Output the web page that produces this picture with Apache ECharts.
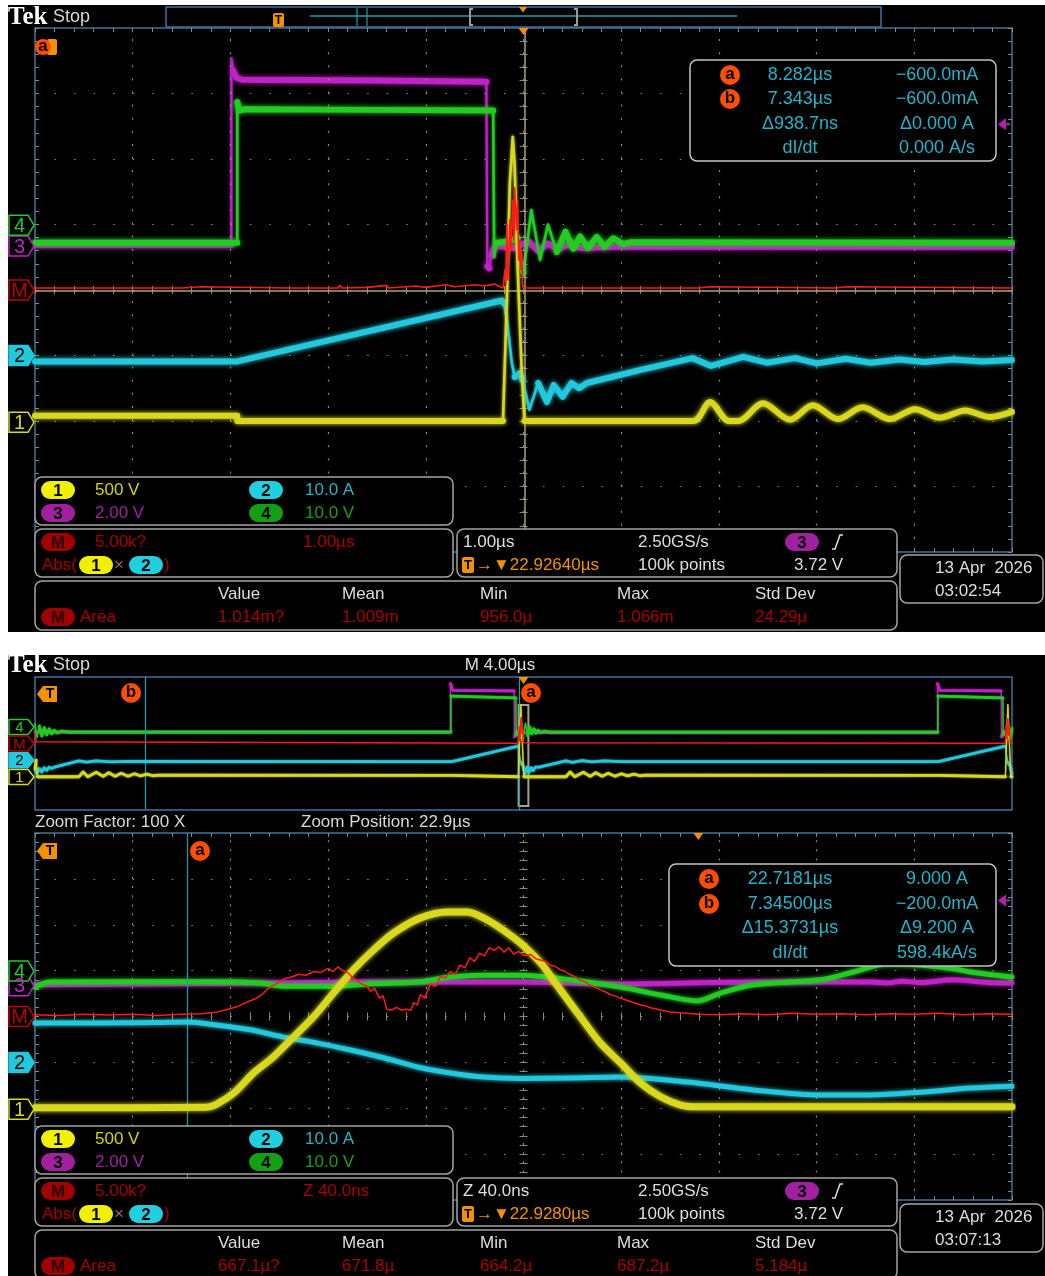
<!DOCTYPE html>
<html>
<head>
<meta charset="utf-8">
<script src="https://cdn.jsdelivr.net/npm/echarts@6/dist/echarts.min.js"></script>
<style>
  html, body { margin: 0; padding: 0; background: #fff; }
  #main { width: 1045px; height: 1276px; }
</style>
</head>
<body>
<div id="main"></div>
<script>
// ---- Waveforms: [time, vertical position in screen divisions] ----
// Upper capture: 1.00 µs/div, time relative to screen centre (µs)
const topCh1 = [[-5,-1.92],[-2.93,-1.92],[-2.93,-2.0],[-0.21,-2.0],[-0.17,-0.15],[-0.14,1.63],[-0.11,2.34],[-0.09,1.88],[-0.06,0.35],[-0.02,-1.18],[0.01,-2.0],[1.74,-2.0],[1.91,-1.71],[2.1,-2.0],[2.2,-2.0],[2.45,-1.73],[2.73,-1.98],[2.96,-1.76],[3.22,-1.97],[3.47,-1.79],[3.75,-1.97],[4.01,-1.82],[4.26,-1.95],[4.52,-1.84],[4.77,-1.94],[5,-1.86]];
const topCh2 = [[-5,-1.09],[-2.93,-1.09],[-0.22,-0.16],[-0.20,-0.20],[-0.17,-0.45],[-0.12,-1.11],[-0.09,-1.33],[-0.04,-1.27],[-0.01,-1.37],[0.06,-1.83],[0.15,-1.42],[0.24,-1.71],[0.31,-1.45],[0.40,-1.63],[0.49,-1.42],[0.57,-1.50],[0.65,-1.42],[1.2,-1.22],[1.73,-1.04],[1.92,-1.16],[2.25,-1.02],[2.49,-1.11],[2.78,-1.04],[3.0,-1.12],[3.3,-1.05],[3.55,-1.11],[3.85,-1.06],[4.1,-1.10],[4.4,-1.06],[4.7,-1.09],[5,-1.07]];
const topCh3 = [[-5,0.69],[-2.99,0.69],[-2.99,3.54],[-2.97,3.35],[-2.94,3.24],[-2.88,3.21],[-1.5,3.2],[-0.38,3.18],[-0.37,0.36],[-0.35,0.33],[-0.33,0.52],[-0.31,0.62],[-0.27,0.67],[-0.1,0.64],[0.05,0.74],[0.15,0.60],[0.25,0.71],[0.35,0.62],[0.45,0.69],[0.6,0.64],[0.9,0.66],[5,0.66]];
const topCh4 = [[-5,0.72],[-2.93,0.72],[-2.93,2.87],[-2.91,2.74],[-2.85,2.76],[-1.5,2.75],[-0.31,2.74],[-0.30,0.50],[-0.28,0.72],[-0.15,0.74],[-0.06,0.80],[-0.02,0.40],[0.0,0.26],[0.08,1.22],[0.17,0.46],[0.25,1.0],[0.34,0.58],[0.43,0.89],[0.51,0.63],[0.58,0.82],[0.66,0.64],[0.75,0.81],[0.83,0.66],[0.92,0.79],[1.02,0.70],[1.1,0.73],[5,0.72]];
const topMath = [[-5,0.03],[-3.5,0.03],[-3.3,0.05],[-3.28,0.03],[-2.4,0.03],[-2.38,0.06],[-2.36,0.03],[-1.9,0.03],[-1.88,0.07],[-1.86,0.03],[-1.6,0.04],[-1.4,0.07],[-1.38,0.03],[-1.1,0.06],[-1.0,0.04],[-0.8,0.08],[-0.7,0.05],[-0.5,0.08],[-0.4,0.06],[-0.3,0.09],[-0.21,0.03],[-0.19,0.31],[-0.18,0.08],[-0.17,0.99],[-0.16,0.15],[-0.14,1.07],[-0.13,0.61],[-0.11,1.37],[-0.10,0.76],[-0.09,1.56],[-0.08,1.22],[-0.07,0.92],[-0.06,1.37],[-0.05,0.46],[-0.04,0.76],[-0.03,0.31],[-0.02,0.61],[-0.01,0.08],[0.0,0.03],[1.8,0.03],[1.82,0.06],[1.9,0.05],[1.92,0.03],[3.2,0.03],[3.22,0.06],[3.3,0.05],[3.32,0.03],[5,0.03]];

// Lower capture, main record: 4.00 µs/div, time relative to screen centre (µs)
const ovCh1 = [[-20,-1.5],[-19.95,-1.0],[-19.9,-2.0],[-18.2,-2.0],[-18.03,-1.71],[-17.84,-2.0],[-17.49,-1.73],[-17.21,-1.98],[-16.98,-1.76],[-16.72,-1.97],[-16.47,-1.79],[-16.19,-1.97],[-15.93,-1.82],[-15.68,-1.95],[-15.42,-1.84],[-15.17,-1.94],[-14.94,-1.9],[-2.93,-1.92],[-2.93,-2.0],[-0.21,-2.0],[-0.11,2.34],[0.01,-2.0],[1.74,-2.0],[1.91,-1.71],[2.1,-2.0],[2.45,-1.73],[2.73,-1.98],[2.96,-1.76],[3.22,-1.97],[3.47,-1.79],[3.75,-1.97],[4.01,-1.82],[4.26,-1.95],[4.52,-1.84],[4.77,-1.94],[5.0,-1.9],[17.01,-1.92],[17.01,-2.0],[19.73,-2.0],[19.83,2.34],[19.95,-2.0],[20,-2.0]];
const ovCh2 = [[-20,-1.6],[-19.92,-1.8],[-19.82,-1.5],[-19.72,-1.72],[-19.62,-1.45],[-19.52,-1.62],[-19.42,-1.42],[-19.32,-1.5],[-19.2,-1.42],[-18.6,-1.2],[-18.2,-1.04],[-17.9,-1.12],[-17.5,-1.05],[-16.9,-1.1],[-16.2,-1.07],[-2.93,-1.09],[-0.22,-0.16],[-0.12,-1.11],[-0.01,-1.37],[0.06,-1.83],[0.15,-1.42],[0.24,-1.71],[0.31,-1.45],[0.40,-1.63],[0.49,-1.42],[0.57,-1.50],[0.65,-1.42],[1.73,-1.04],[2.0,-1.14],[2.4,-1.03],[2.8,-1.11],[3.3,-1.05],[4.0,-1.09],[16.99,-1.09],[19.72,-0.16],[19.82,-1.11],[19.93,-1.37],[20,-1.83]];
const ovCh3 = [[-20,0.69],[-2.99,0.69],[-2.99,3.6],[-2.9,3.2],[-0.38,3.16],[-0.37,0.4],[-0.3,0.66],[16.95,0.66],[16.95,3.6],[17.04,3.2],[19.56,3.16],[19.57,0.4],[19.64,0.66],[20,0.66]];
const ovCh4 = [[-20,1.2],[-19.92,0.35],[-19.82,1.05],[-19.72,0.45],[-19.62,0.95],[-19.52,0.52],[-19.42,0.88],[-19.32,0.58],[-19.22,0.8],[-19.1,0.64],[-18.9,0.74],[-18.6,0.69],[-2.97,0.69],[-2.97,2.85],[-2.92,2.74],[-0.31,2.74],[-0.30,0.5],[-0.28,0.72],[-0.02,0.3],[0.08,1.22],[0.17,0.46],[0.25,1.0],[0.34,0.58],[0.43,0.89],[0.51,0.63],[0.6,0.8],[0.7,0.66],[0.85,0.75],[1.1,0.69],[16.97,0.69],[16.97,2.85],[17.02,2.74],[19.63,2.74],[19.64,0.5],[19.66,0.72],[19.92,0.3],[20,0.9]];
const ovMath = [[-20,0.6],[-19.95,0.1],[-19.9,0.02],[-0.21,0.02],[-0.17,1.0],[-0.15,0.2],[-0.11,1.4],[-0.09,1.56],[-0.06,0.6],[-0.03,0.9],[-0.01,0.05],[19.72,0.02],[19.76,1.1],[19.79,0.3],[19.83,1.5],[19.87,0.5],[19.9,0.9],[19.93,0.05],[20,0.02]];

// Lower capture, zoom window: 40.0 ns/div, time relative to screen centre (ns)
const zmCh1 = [[-200,-1.99],[-130,-1.98],[-126,-1.92],[-118.7,-1.67],[-110.5,-1.23],[-102.4,-0.88],[-94.2,-0.45],[-86.0,-0.01],[-77.8,0.51],[-69.6,1.02],[-61.4,1.45],[-53.2,1.82],[-42.2,2.15],[-31.1,2.28],[-22.9,2.28],[-14.7,2.10],[-6.6,1.82],[-1.2,1.60],[7.0,1.17],[15.1,0.58],[23.3,-0.01],[31.5,-0.58],[39.7,-1.01],[47.9,-1.45],[56.1,-1.75],[64.3,-1.93],[71.2,-1.97],[200,-1.97]];
const zmCh2 = [[-200,-0.14],[-173.2,-0.14],[-150,-0.13],[-137.6,-0.12],[-125.3,-0.19],[-111.8,-0.29],[-98.3,-0.45],[-84.3,-0.58],[-70.8,-0.73],[-57.3,-0.90],[-43.4,-1.10],[-29.9,-1.23],[-16.4,-1.32],[-1.2,-1.35],[20,-1.34],[39.7,-1.32],[67.1,-1.43],[94.2,-1.60],[121.6,-1.71],[142.1,-1.71],[162.5,-1.65],[183.0,-1.56],[200,-1.52]];
const zmCh3 = [[-200,0.69],[-107.7,0.73],[-63.9,0.75],[-36.8,0.75],[-1.2,0.75],[39.7,0.71],[94.2,0.75],[142.1,0.75],[149.0,0.73],[155,0.77],[162.5,0.74],[176,0.80],[190,0.74],[200,0.73]];
const zmCh4 = [[-200,0.64],[-193.6,0.75],[-125.3,0.76],[-107.7,0.73],[-98.3,0.66],[-77.8,0.66],[-63.9,0.71],[-43.4,0.75],[-29.9,0.86],[-16.4,0.90],[-1.2,0.90],[19.2,0.80],[39.7,0.64],[56.1,0.47],[71.2,0.34],[80.7,0.51],[94.2,0.69],[121.6,0.80],[135.1,0.97],[149.0,1.15],[162.5,1.12],[176.0,1.04],[183.0,0.97],[200,0.86]];
const zmMath = [[-200,0.04],[-190,0.02],[-180,0.05],[-170,0.03],[-160,0.05],[-150,0.02],[-140,0.05],[-132,0.06],[-126,0.09],[-121,0.16],[-117,0.22],[-113,0.32],[-110,0.38],[-107,0.48],[-104.8,0.60],[-101,0.72],[-98,0.82],[-95,0.86],[-92,0.92],[-89,0.90],[-86,0.98],[-83,0.96],[-80,1.05],[-78,0.98],[-76,1.08],[-74,1.0],[-72,0.96],[-70,0.85],[-68,0.78],[-66.7,0.72],[-64,0.66],[-62.6,0.55],[-61,0.62],[-59,0.40],[-57.5,0.45],[-56,0.16],[-54,0.14],[-52,0.20],[-50,0.14],[-48,0.16],[-46,0.14],[-45,0.30],[-43.5,0.25],[-42.2,0.48],[-40.5,0.40],[-38.1,0.72],[-36,0.66],[-34,0.88],[-32,0.84],[-30,0.98],[-28,0.92],[-26,1.12],[-24,1.06],[-22,1.28],[-20,1.20],[-18,1.38],[-16,1.32],[-14,1.50],[-12,1.44],[-10,1.52],[-8,1.40],[-6,1.50],[-4,1.36],[-2,1.42],[0,1.33],[3,1.35],[5,1.26],[7,1.23],[9,1.20],[11,1.12],[13,1.09],[15,1.02],[17,0.98],[19,0.92],[21,0.87],[23,0.80],[25,0.76],[27,0.69],[29,0.65],[31.5,0.58],[33.5,0.54],[35.5,0.48],[37.5,0.45],[39.7,0.40],[42,0.36],[44,0.32],[46,0.29],[48,0.25],[50,0.23],[52,0.19],[54,0.17],[56,0.14],[60,0.10],[64,0.08],[72,0.05],[80,0.04],[90,0.06],[100,0.04],[110,0.07],[120,0.05],[130,0.06],[140,0.04],[150,0.06],[160,0.05],[170,0.07],[180,0.04],[190,0.06],[200,0.05]];

// Channel reference levels (divisions) and trigger level marker
const markerLevels = { ch4: 0.99, ch3: 0.67, math: 0, ch2: -1.0, ch1: -2.02 };
const trigLevel = 2.53;

// Cursor positions
const ovCursorB = -15.5, ovCursorA = -0.18;
const zmCursorA = -137.6;
const zmExpandPoint = 71.6;

// Readout texts
const topCursorRows = [['8.282µs', '−600.0mA'], ['7.343µs', '−600.0mA'], ['Δ938.7ns', 'Δ0.000 A'], ['dI/dt', '0.000 A/s']];
const zmCursorRows = [['22.7181µs', '9.000 A'], ['7.34500µs', '−200.0mA'], ['Δ15.3731µs', 'Δ9.200 A'], ['dI/dt', '598.4kA/s']];
const chanScales = [['1', '500 V'], ['2', '10.0 A'], ['3', '2.00 V'], ['4', '10.0 V']];
const measHeaders = ['Value', 'Mean', 'Min', 'Max', 'Std Dev'];
const topMeasValues = ['1.014m?', '1.009m', '956.0µ', '1.066m', '24.29µ'];
const zmMeasValues = ['667.1µ?', '671.8µ', '664.2µ', '687.2µ', '5.184µ'];

// ---- Palette ----
const C = {
  ch1: '#d8d81c', ch2: '#22c8dc', ch3: '#c022c8', ch4: '#22cc22', math: '#ff1a1a',
  t1: '#d6d600', t2: '#22b4c8', t3: '#a020a0', t4: '#16a016', tm: '#a80000',
  p1: '#f0f000', p2: '#20d0e0', p3: '#a020a0', p4: '#12a012', pm: '#a00000',
  white: '#dedede', orange: '#f39200', badge: '#ff4e00', border: '#41729c',
  dot: '#8a8a7a', tick: '#8a8a78', cursor: '#1a9fb0', tan: '#a89f86'
};
const FONT = '"Liberation Sans", Arial, sans-serif';

// ---- Panels ----
const P = [
  { left: 35, top: 28, width: 977, height: 524, xMin: -5, xMax: 5, xInt: 1, grat: true },
  { left: 35, top: 677, width: 977, height: 133, xMin: -20, xMax: 20, xInt: 4, grat: false },
  { left: 35, top: 833, width: 977, height: 367, xMin: -200, xMax: 200, xInt: 40, grat: true }
];

const xAxes = [], yAxes = [];
P.forEach((p, g) => {
  const base = { axisLine: { show: false, onZero: false }, axisLabel: { show: false }, splitLine: { show: false } };
  const ticks = len => ({
    axisTick: { show: p.grat, inside: true, length: len, lineStyle: { color: C.tick, width: 1 } },
    minorTick: { show: p.grat, splitNumber: 5, length: len, lineStyle: { color: C.tick, width: 1 } }
  });
  const xb = { gridIndex: g, type: 'value', min: p.xMin, max: p.xMax, interval: p.xInt, z: 1 };
  const yb = { gridIndex: g, type: 'value', min: -4, max: 4, interval: 1, z: 1 };
  p.xi = xAxes.length;
  xAxes.push(Object.assign({}, xb, base, ticks(4), { position: 'bottom' }));
  p.yi = yAxes.length;
  yAxes.push(Object.assign({}, yb, base, ticks(4), { position: 'left' }));
  if (p.grat) {
    xAxes.push(Object.assign({}, xb, base, ticks(4), { position: 'top' }));
    xAxes.push(Object.assign({}, xb, base, ticks(8), { position: 'bottom', offset: -(p.height / 2 - 4) }));
    yAxes.push(Object.assign({}, yb, base, ticks(4), { position: 'right' }));
    yAxes.push(Object.assign({}, yb, base, ticks(8), { position: 'left', offset: -(p.width / 2 - 4) }));
  }
});

const grids = P.map(p => ({
  left: p.left, top: p.top, width: p.width, height: p.height,
  show: true, borderColor: C.border, borderWidth: 1.5, backgroundColor: 'transparent',
  containLabel: false, outerBoundsMode: 'none'
}));

// Split a trace into slow parts (drawn as a thick persistence band) and fast
// edges (drawn thin, as the phosphor is faint on fast transitions).
function splitEdges(data, pi) {
  const p = P[pi], sx = p.width / (p.xMax - p.xMin), sy = p.height / 8;
  const slow = [], fast = [];
  let last = -1;
  for (let i = 0; i < data.length - 1; i++) {
    const a = data[i], b = data[i + 1];
    const dx = Math.abs(b[0] - a[0]) * sx, dy = Math.abs(b[1] - a[1]) * sy;
    if (dy > 10 && dy > 2.5 * dx) {
      fast.push(a, b, [b[0], '-']);
    } else {
      if (last !== i) { if (slow.length) slow.push([a[0], '-']); slow.push(a); }
      slow.push(b); last = i + 1;
    }
  }
  return { slow, fast };
}

function line(pi, data, color, width, glow, z, smooth) {
  return {
    type: 'line', xAxisIndex: P[pi].xi, yAxisIndex: P[pi].yi, data, symbol: 'none', showSymbol: false,
    smooth: smooth || false, connectNulls: false, z, silent: true, animation: false,
    lineStyle: { color, width, shadowBlur: glow, shadowColor: color, cap: 'round', join: 'round' }
  };
}
function band(pi, data, color, wSlow, wFast, glow, z, smooth) {
  const s = splitEdges(data, pi);
  return [line(pi, s.fast, color, wFast, glow * 0.6, z), line(pi, s.slow, color, wSlow, glow, z, smooth)];
}
function decor(pi, lines, area, z) {
  const s = { type: 'line', xAxisIndex: P[pi].xi, yAxisIndex: P[pi].yi, data: [], z: z || 1, silent: true, animation: false };
  if (lines) s.markLine = { silent: true, symbol: ['none', 'none'], label: { show: false }, animation: false, data: lines };
  if (area) s.markArea = { silent: true, label: { show: false }, animation: false,
    itemStyle: { color: 'rgba(0,0,0,0)', borderColor: '#a8a08a', borderWidth: 2 }, data: area };
  return s;
}
// Dotted graticule: a dot at every minor division along each major line
function graticule(pi) {
  const p = P[pi], minorH = p.height / 40, minorW = p.width / 50, L = [];
  for (let k = 1; k < 10; k++) L.push({ xAxis: p.xMin + k * p.xInt, lineStyle: { color: C.dot, width: 1.2, type: [2, minorH - 2] } });
  for (let k = -3; k <= 3; k++) L.push({ yAxis: k, lineStyle: { color: C.dot, width: 1.2, type: [1.5, minorW - 1.5] } });
  return decor(pi, L, null, 1);
}

const series = [
  // upper capture
  graticule(0),
  decor(0, [
    { yAxis: -0.01, lineStyle: { color: C.tan, width: 1.5, type: 'solid' } },
    { xAxis: 0.01, lineStyle: { color: C.tan, width: 1.5, type: 'solid' } }
  ], null, 2),
  ...band(0, topCh3, C.ch3, 6, 2.2, 5, 3),
  ...band(0, topCh4, C.ch4, 6, 2.6, 5, 4),
  ...band(0, topCh2, C.ch2, 6, 2.6, 5, 5),
  ...band(0, topCh1, C.ch1, 6, 2.6, 5, 6, 0.3),
  line(0, topMath, C.math, 1.6, 0, 7),
  // overview
  decor(1, [
    { xAxis: ovCursorB, lineStyle: { color: C.cursor, width: 1.2, type: 'solid' } },
    { xAxis: ovCursorA, lineStyle: { color: C.cursor, width: 1.2, type: 'solid' } }
  ], null, 2),
  ...band(1, ovCh3, C.ch3, 2.8, 1.2, 2, 3),
  ...band(1, ovCh4, C.ch4, 2.8, 1.2, 2, 4),
  ...band(1, ovCh2, C.ch2, 2.8, 1.2, 2, 5),
  ...band(1, ovCh1, C.ch1, 2.8, 1.2, 2, 6),
  line(1, ovMath, C.math, 1.5, 0, 7),
  decor(1, null, [[{ coord: [-0.2, 2.32] }, { coord: [0.2, -3.76] }]], 9),
  // zoom
  graticule(2),
  decor(2, [{ xAxis: zmCursorA, lineStyle: { color: C.cursor, width: 1.2, type: 'solid' } }], null, 2),
  line(2, zmCh3, C.ch3, 5, 4, 3, 0.3),
  line(2, zmCh4, C.ch4, 5, 4, 4, 0.3),
  line(2, zmCh2, C.ch2, 5, 4, 5, 0.3),
  line(2, zmCh1, C.ch1, 7, 5, 6, 0.3),
  line(2, zmMath, C.math, 1.5, 0, 7)
];

// ---- Screen furniture (text and overlay shapes) ----
const G = [];
const yPix = (pi, div) => P[pi].top + (4 - div) * P[pi].height / 8;
const xPix = (pi, t) => P[pi].left + (t - P[pi].xMin) / (P[pi].xMax - P[pi].xMin) * P[pi].width;

function T(x, y, s, fill, size, align, weight, z, family) {
  return { type: 'text', x, y, z: z || 110, silent: true,
    style: { text: s, fill, font: (weight ? weight + ' ' : '') + (size || 17) + 'px ' + (family || FONT),
      textAlign: align || 'left', textVerticalAlign: 'middle', align: align || 'left', verticalAlign: 'middle' } };
}
function box(x, y, w, h, stroke) {
  G.push({ type: 'rect', z: 100, silent: true, shape: { x, y, width: w, height: h, r: 7 },
    style: { fill: '#000', stroke: stroke || '#a4a4a4', lineWidth: 1.5 } });
}
function pill(cx, cy, label, fill, fg) {
  G.push({ type: 'rect', z: 105, silent: true, shape: { x: cx - 17, y: cy - 9, width: 34, height: 18, r: 9 }, style: { fill } });
  G.push(T(cx, cy + 1, label, fg || '#000', 17, 'center', 'bold', 106));
}
function badge(cx, cy, letter, r) {
  G.push({ type: 'circle', z: 105, silent: true, shape: { cx, cy, r: r || 10 }, style: { fill: C.badge } });
  G.push(T(cx, cy - 0.5, letter, '#000', 17, 'center', 'bold', 106));
}
function chMarker(yc, h, label, color, filled) {
  const x0 = 9, w = 19, tip = 6;
  G.push({ type: 'polygon', z: 105, silent: true,
    shape: { points: [[x0, yc - h / 2], [x0 + w, yc - h / 2], [x0 + w + tip, yc], [x0 + w, yc + h / 2], [x0, yc + h / 2]] },
    style: { fill: filled ? color : '#000', stroke: color, lineWidth: 1.5 } });
  G.push(T(x0 + w / 2 + 1, yc + 1, label, filled ? '#000' : color, h, 'center', null, 106));
}
function trigTabLeft(x, yc) {
  G.push({ type: 'polygon', z: 105, silent: true,
    shape: { points: [[x, yc], [x + 6, yc - 8], [x + 20, yc - 8], [x + 20, yc + 8], [x + 6, yc + 8]] }, style: { fill: C.orange } });
  G.push(T(x + 13, yc + 0.5, 'T', '#000', 14, 'center', 'bold', 106));
}
function downTri(cx, y, s) {
  G.push({ type: 'polygon', z: 105, silent: true, shape: { points: [[cx - s, y], [cx + s, y], [cx, y + s * 1.4]] }, style: { fill: C.orange } });
}
function trigArrow(pi) {
  const y = yPix(pi, trigLevel), x = P[pi].left + P[pi].width - 2;
  G.push({ type: 'polygon', z: 105, silent: true, shape: { points: [[x - 12, y], [x - 4, y - 6], [x - 4, y + 6]] }, style: { fill: '#b020b0' } });
  G.push({ type: 'line', z: 105, silent: true, shape: { x1: x - 5, y1: y, x2: x, y2: y }, style: { stroke: '#b020b0', lineWidth: 2 } });
}
function header(y) {
  G.push(T(8, y + 1, 'Tek', '#ffffff', 25, 'left', 'bold', 110, '"Liberation Serif", "DejaVu Serif", serif'));
  G.push(T(53, y, 'Stop', '#d8d8d8', 18));
}
function cursorBox(x, y, w, h, rows, rowY, cCol, vCol, badgeX) {
  box(x, y, w, h, '#c4c4c4');
  rows.forEach((r, i) => {
    if (i < 2) badge(badgeX, rowY[i], i === 0 ? 'a' : 'b');
    G.push(T(cCol, rowY[i], r[0], C.t2, 18, 'center'));
    G.push(T(vCol, rowY[i], r[1], C.t2, 18, 'center'));
  });
}
function legendBlock(y0, mathTime, tbLabel, delay, date, time, measVals) {
  // channel scales
  box(35, y0, 418, 48);
  const r1 = y0 + 13, r2 = y0 + 36;
  pill(58, r1, '1', C.p1); G.push(T(95, r1, chanScales[0][1], C.t1));
  pill(266, r1, '2', C.p2); G.push(T(305, r1, chanScales[1][1], C.t2));
  pill(58, r2, '3', C.p3); G.push(T(95, r2, chanScales[2][1], C.t3));
  pill(266, r2, '4', C.p4); G.push(T(305, r2, chanScales[3][1], C.t4));
  // math definition
  const m0 = y0 + 52, m1 = m0 + 13, m2 = m0 + 36;
  box(35, m0, 418, 48);
  pill(58, m1, 'M', C.pm, '#2a0000'); G.push(T(95, m1, '5.00k?', C.tm)); G.push(T(303, m1, mathTime, C.tm));
  G.push(T(42, m2, 'Abs(', C.tm));
  pill(96, m2, '1', C.p1); G.push(T(114, m2, '×', '#a06060')); pill(146, m2, '2', C.p2); G.push(T(164, m2, ')', C.tm));
  // timebase / trigger
  box(457, m0, 440, 48);
  G.push(T(463, m1, tbLabel, C.white));
  G.push(T(638, m1, '2.50GS/s', C.white));
  pill(802, m1, '3', C.p3);
  G.push({ type: 'polyline', z: 106, silent: true, shape: { points: [[832, m1 + 7], [835, m1 + 7], [840, m1 - 7], [843, m1 - 7]] }, style: { stroke: C.white, lineWidth: 1.5, fill: null } });
  G.push({ type: 'rect', z: 105, silent: true, shape: { x: 462, y: m2 - 8, width: 12, height: 16, r: 2 }, style: { fill: C.orange } });
  G.push(T(468, m2 + 0.5, 'T', '#000', 13, 'center', 'bold', 106));
  G.push(T(476, m2, '→▼' + delay, C.orange));
  G.push(T(638, m2, '100k points', C.white));
  G.push(T(794, m2, '3.72 V', C.white));
  // date
  const d0 = y0 + 78;
  box(900, d0, 143, 48);
  G.push(T(935, d0 + 13, date, C.white));
  G.push(T(935, d0 + 36, time, C.white));
  // measurements
  const s0 = y0 + 104, s1 = s0 + 13, s2 = s0 + 36;
  box(35, s0, 862, 49);
  const cols = [218, 342, 480, 617, 755];
  measHeaders.forEach((h, i) => G.push(T(cols[i], s1, h, C.white)));
  pill(58, s2, 'M', C.pm, '#2a0000'); G.push(T(80, s2, 'Area', C.tm));
  measVals.forEach((v, i) => G.push(T(cols[i], s2, v, C.tm)));
}

// screen backgrounds
G.push({ type: 'rect', z: -100, silent: true, shape: { x: 8, y: 5, width: 1037, height: 627 }, style: { fill: '#000' } });
G.push({ type: 'rect', z: -100, silent: true, shape: { x: 8, y: 655, width: 1037, height: 621 }, style: { fill: '#000' } });

// ---- Upper capture furniture ----
header(17);
G.push({ type: 'rect', z: 100, silent: true, shape: { x: 166, y: 7, width: 715, height: 20 }, style: { fill: 'rgba(0,0,0,0)', stroke: C.border, lineWidth: 1.5 } });
G.push({ type: 'line', z: 101, silent: true, shape: { x1: 310, y1: 16, x2: 737, y2: 16 }, style: { stroke: C.cursor, lineWidth: 1.5 } });
G.push({ type: 'line', z: 101, silent: true, shape: { x1: 357, y1: 8, x2: 357, y2: 26 }, style: { stroke: C.cursor, lineWidth: 1.2 } });
G.push({ type: 'line', z: 101, silent: true, shape: { x1: 367, y1: 8, x2: 367, y2: 26 }, style: { stroke: C.cursor, lineWidth: 1.2 } });
G.push({ type: 'polyline', z: 101, silent: true, shape: { points: [[473, 9], [470, 9], [470, 25], [473, 25]] }, style: { stroke: '#a09a88', lineWidth: 2, fill: null } });
G.push({ type: 'polyline', z: 101, silent: true, shape: { points: [[574, 9], [577, 9], [577, 25], [574, 25]] }, style: { stroke: '#a09a88', lineWidth: 2, fill: null } });
G.push({ type: 'rect', z: 105, silent: true, shape: { x: 273, y: 13, width: 11, height: 14, r: 2 }, style: { fill: C.orange } });
G.push(T(278.5, 20.5, 'T', '#000', 12, 'center', 'bold', 106));
downTri(523, 7, 4);
downTri(xPix(0, 0), P[0].top, 5);
G.push({ type: 'rect', z: 104, silent: true, shape: { x: 47, y: 39, width: 10, height: 16, r: 2 }, style: { fill: C.orange } });
badge(43, 47, 'a', 8);
chMarker(yPix(0, markerLevels.ch3), 20, '3', C.ch3, false);
chMarker(yPix(0, markerLevels.ch4), 20, '4', C.ch4, false);
chMarker(yPix(0, markerLevels.math), 20, 'M', '#c00000', false);
chMarker(yPix(0, markerLevels.ch2), 20, '2', C.ch2, true);
chMarker(yPix(0, markerLevels.ch1), 20, '1', C.ch1, false);
trigArrow(0);
cursorBox(690, 60, 306, 101, topCursorRows, [75, 99, 124, 148], 800, 937, 730);
legendBlock(477, '1.00µs', '1.00µs', '22.92640µs', '13 Apr  2026', '03:02:54', topMeasValues);

// ---- Lower capture furniture ----
header(665);
G.push(T(500, 665, 'M 4.00µs', C.white, 17, 'center'));
downTri(xPix(1, 0), P[1].top, 5);
trigTabLeft(37, 694);
badge(131, 693, 'b');
badge(531, 693, 'a');
chMarker(yPix(1, markerLevels.ch4), 15, '4', C.ch4, false);
chMarker(yPix(1, markerLevels.math), 15, 'M', '#c00000', false);
chMarker(yPix(1, markerLevels.ch2), 15, '2', C.ch2, true);
chMarker(yPix(1, markerLevels.ch1), 15, '1', C.ch1, false);
G.push(T(35, 822, 'Zoom Factor: 100 X', '#d8d8d8'));
G.push(T(301, 822, 'Zoom Position: 22.9µs', '#d8d8d8'));
downTri(xPix(2, zmExpandPoint), P[2].top, 5);
trigTabLeft(37, 851);
badge(200, 851, 'a');
chMarker(yPix(2, markerLevels.ch3), 20, '3', C.ch3, false);
chMarker(yPix(2, markerLevels.ch4), 20, '4', C.ch4, false);
chMarker(yPix(2, markerLevels.math), 20, 'M', '#c00000', false);
chMarker(yPix(2, markerLevels.ch2), 20, '2', C.ch2, true);
chMarker(yPix(2, markerLevels.ch1), 20, '1', C.ch1, false);
trigArrow(2);
cursorBox(669, 864, 327, 102, zmCursorRows, [879, 904, 928, 953], 790, 937, 709);
legendBlock(1126, 'Z 40.0ns', 'Z 40.0ns', '22.9280µs', '13 Apr  2026', '03:07:13', zmMeasValues);

const chart = echarts.init(document.getElementById('main'), null, { renderer: 'canvas', width: 1045, height: 1276 });
chart.setOption({
  backgroundColor: '#ffffff',
  animation: false,
  grid: grids,
  xAxis: xAxes,
  yAxis: yAxes,
  series,
  graphic: { elements: G }
});
</script>
</body>
</html>
